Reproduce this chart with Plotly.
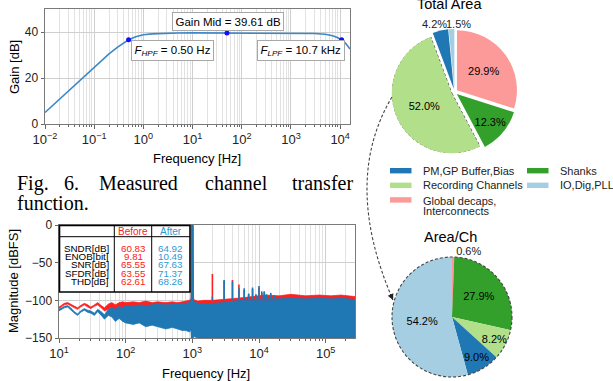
import numpy as np
import plotly.graph_objects as go

W, H = 613, 381
def px(x): return x / W
def py(y): return 1 - y / H

FONT = "Liberation Sans, Arial, sans-serif"
SERIF = "Liberation Serif, Times New Roman, serif"

# ---------------- top: channel transfer function ----------------
gain_freq = [0.01, 0.015, 0.02, 0.03, 0.05, 0.07, 0.1, 0.15, 0.2, 0.3, 0.4, 0.5, 0.7, 1, 1.5, 2, 3, 5,
             10, 20, 50, 100, 300, 1000, 2000, 3000, 5000, 7000, 9000, 10700, 12000, 13500, 15850]
gain_db = [5.0, 8.5, 11.0, 14.5, 18.9, 21.8, 24.8, 28.2, 30.5, 33.4, 35.2, 36.6, 37.9, 38.8, 39.2, 39.35,
           39.5, 39.57, 39.6, 39.61, 39.61, 39.61, 39.61, 39.6, 39.5, 39.35, 39.0, 38.4, 37.5, 36.6, 35.8,
           34.6, 32.6]
mark_freq = [0.5, 50, 10700]
mark_gain = [36.6, 39.61, 36.6]
top_exp = [-2, -1, 0, 1, 2, 3, 4]

# ---------------- bottom: output spectrum ----------------
env_freq = [10, 11, 12, 13.5, 15, 17, 19, 21, 24, 27,
            30, 34, 38, 43, 48, 55, 62, 70, 80, 90,
            100, 130, 160, 200, 250, 300, 400, 500, 600, 700,
            800, 900, 955, 975, 990, 1000, 1010, 1025, 1045, 1200,
            1500, 2000, 3000, 5000, 8000, 12000, 20000, 30000, 50000, 80000,
            120000, 170000, 275000]
red_hi = [-109, -106, -104, -103, -105, -108, -110, -107, -104, -106,
          -109, -106, -103, -107, -110, -105, -103, -106, -103, -102,
          -103, -102, -103, -101, -103, -102, -103, -102, -103, -102,
          -101, -100, -98, -50, -5, 0, -5, -50, -99, -101,
          -100, -100, -99, -97, -95, -93, -94, -92, -94, -93,
          -94, -93, -95]
red_lo = [-111, -108, -106, -105, -107, -110, -112, -109, -106, -109,
          -111, -108, -106, -110, -114, -112, -110, -116, -112, -118,
          -115, -114, -120, -116, -118, -116, -120, -118, -122, -120,
          -125, -130, -120, -130, -150, -150, -150, -130, -125, -140,
          -145, -148, -150, -150, -150, -150, -150, -150, -150, -150,
          -150, -150, -150]
blue_hi = [-112, -110, -108, -107, -110, -115, -118, -114, -111, -113,
           -114, -117, -112, -115, -119, -112, -110, -112, -108, -110,
           -107, -108, -106, -107, -106, -105, -106, -105, -105, -104,
           -104, -103, -100, -45, -3, 0, -3, -45, -101, -104,
           -105, -104, -103, -100, -99, -98, -98, -97, -98, -97,
           -98, -97, -99]
blue_lo = [-114, -112, -110, -109, -112, -117, -120, -116, -113, -116,
           -117, -120, -115, -120, -125, -120, -122, -128, -124, -128,
           -130, -132, -130, -135, -133, -135, -138, -136, -138, -140,
           -140, -142, -140, -150, -150, -150, -150, -150, -148, -150,
           -150, -150, -150, -150, -150, -150, -150, -150, -150, -150,
           -150, -150, -150]
fund_freq = [1000]
fund_level = [0]
harm_freq = [2000, 3000, 4000, 5000, 6000, 7000, 8000, 9000, 10000, 11000, 12000, 13000, 15000, 17000]
red_harm = [-65, -74, -73, -79, -86, -92, -85, -93, -83, -90, -89, -93, -92, -94]
blue_harm = [-95, -73, -75, -84, -84, -91, -83, -92, -81, -88, -88, -92, -90, -93]
spec_exp = [1, 2, 3, 4, 5]

metrics = ["SNDR[dB]", "ENOB[bit]", "SNR[dB]", "SFDR[dB]", "THD[dB]"]
before_vals = ["60.83", "9.81", "65.55", "63.55", "62.61"]
after_vals = ["64.92", "10.49", "67.63", "71.37", "68.26"]

# ---------------- pies ----------------
labels = ["PM,GP Buffer,Bias", "Recording Channels", "Global decaps,\nInterconnects", "Shanks", "IO,Dig,PLL"]
colors = ["#1f78b4", "#b2df8a", "#fb9a99", "#33a02c", "#a6cee3"]
total_area = [4.2, 52.0, 29.9, 12.3, 1.5]
area_per_ch = [9.0, 8.2, 0.6, 27.9, 54.2]
pie_order = [2, 3, 1, 0, 4]   # clockwise from 12 o'clock

RED = "#ff2020"
BLUE = "#1f77b4"
AFTER_C = "#2f9ad2"
GRID = "#cfcfcf"
MGRID = "#e2e2e2"

fig = go.Figure()

# top curve
fig.add_trace(go.Scatter(x=gain_freq, y=gain_db, mode="lines", line=dict(color="#3a88c8", width=1.6),
                         xaxis="x", yaxis="y", showlegend=False, hoverinfo="skip"))
fig.add_trace(go.Scatter(x=mark_freq, y=mark_gain, mode="markers", marker=dict(color="#1010ff", size=5),
                         xaxis="x", yaxis="y", showlegend=False, hoverinfo="skip"))

# spectrum bands
def band(hi, lo, col):
    return go.Scatter(x=env_freq + env_freq[::-1], y=hi + lo[::-1], mode="lines", fill="toself",
                      fillcolor=col, line=dict(color=col, width=0.7), xaxis="x2", yaxis="y2",
                      showlegend=False, hoverinfo="skip")

def spikes(freqs, vals, col, base=-100, width=1.6):
    xs, ys = [], []
    for f, v in zip(freqs, vals):
        xs += [f, f, None]
        ys += [base, v, None]
    return go.Scatter(x=xs, y=ys, mode="lines", line=dict(color=col, width=width), xaxis="x2", yaxis="y2",
                      showlegend=False, hoverinfo="skip")

fig.add_trace(band(red_hi, red_lo, RED))
fig.add_trace(band(blue_hi, blue_lo, BLUE))
fig.add_trace(spikes(harm_freq, red_harm, RED))
fig.add_trace(spikes(harm_freq, blue_harm, BLUE))
fig.add_trace(spikes(fund_freq, fund_level, BLUE, base=-150, width=3))

# pies
R1, PULL = 60, 0.05
C1 = (454.5, 92)
R2 = 60
C2 = (452, 317)
s1 = R1 * (1 + PULL)

def pie(vals, tpos, cx, cy, half, pull):
    return go.Pie(values=[vals[i] for i in pie_order], labels=[labels[i] for i in pie_order],
                  marker=dict(colors=[colors[i] for i in pie_order], line=dict(width=0)),
                  sort=False, direction="clockwise", rotation=0, pull=pull,
                  textposition=tpos, texttemplate="%{value:.1f}%",
                  textfont=dict(size=11, color="black", family=FONT),
                  insidetextfont=dict(size=11, color="black", family=FONT),
                  outsidetextfont=dict(size=11, color="#222", family=FONT),
                  insidetextorientation="horizontal", showlegend=False, hoverinfo="skip",
                  domain=dict(x=[px(cx - half), px(cx + half)], y=[py(cy + half), py(cy - half)]))

fig.add_trace(pie(total_area, ["inside", "inside", "inside", "none", "none"], C1[0], C1[1], s1, PULL))
fig.add_trace(pie(area_per_ch, ["outside", "inside", "inside", "inside", "inside"], C2[0], C2[1], R2, 0))

# dashed outline of the pulled "Recording Channels" wedge (polar overlay)
ordered = [total_area[i] for i in pie_order]
tot = sum(ordered)
a0 = 360 * sum(ordered[:2]) / tot
a1 = a0 + 360 * ordered[2] / tot
bis = np.radians((a0 + a1) / 2)
wx = C1[0] + PULL * R1 * np.sin(bis)
wy = C1[1] - PULL * R1 * np.cos(bis)
arc = list(np.linspace(a0, a1, 80))
fig.add_trace(go.Scatterpolar(theta=[a0] + arc + [a1], r=[0] + [1] * len(arc) + [0], mode="lines",
                              line=dict(color="#444", width=1.1, dash="3px,2px"), subplot="polar",
                              showlegend=False, hoverinfo="skip"))

axfont = dict(family=FONT, size=13, color="#222")
yfont = dict(family=FONT, size=12, color="#222")

def logax(domain, rng, exps):
    return dict(type="log", domain=domain, range=rng, tickvals=[10.0 ** e for e in exps],
                ticktext=["10<sup>" + str(e).replace("-", "\u2212") + "</sup>" for e in exps],
                tickfont=axfont, showgrid=True, gridcolor=GRID, gridwidth=1,
                minor=dict(dtick="D1", showgrid=True, gridcolor=MGRID, ticks="outside", ticklen=2,
                           tickcolor="#666"),
                ticks="outside", ticklen=3.5, tickcolor="#666", showline=True, linecolor="#7a7a7a",
                linewidth=1, mirror=True, zeroline=False, automargin=False)

def linax(domain, rng, dtick, anchor):
    return dict(domain=domain, range=rng, dtick=dtick, tickfont=yfont, showgrid=True, gridcolor=GRID,
                ticks="outside", ticklen=3.5, tickcolor="#666", showline=True, linecolor="#7a7a7a",
                linewidth=1, mirror=True, zeroline=False, automargin=False, anchor=anchor)

xa = logax([px(45), px(350)], [-2, 4.2], top_exp); xa["anchor"] = "y"
xb = logax([px(59), px(355)], [1, 5.44], spec_exp); xb["anchor"] = "y2"

annotations = []
def text(x, y, s, size=11, color="black", family=FONT, xanchor="center", **kw):
    annotations.append(dict(x=px(x), y=py(y), xref="paper", yref="paper", text=s, showarrow=False,
                            font=dict(size=size, color=color, family=family), xanchor=xanchor,
                            yanchor="middle", **kw))

# axis titles
text(14, 67, "Gain [dB]", size=13, textangle=-90)
text(197, 159, "Frequency [Hz]", size=13)
text(13, 281, "Magnitude [dBFS]", size=13, textangle=-90)
text(206, 373, "Frequency [Hz]", size=13)

# boxes on top chart
box = dict(bgcolor="white", bordercolor="#a8a8a8", borderwidth=1, borderpad=2.5)
text(228, 21, "Gain Mid = 39.61 dB", size=11.5, **box)
text(172.5, 50, "<i>F<sub>HPF</sub></i> = 0.50 Hz", size=11.5, **box)
text(300.5, 50, "<i>F<sub>LPF</sub></i> = 10.7 kHz", size=11.5, **box)

# caption (justified)
cap_words = [("Fig.", 15), ("6.", 62), ("Measured", 97), ("channel", 203), ("transfer", 290)]
for w, x in cap_words:
    text(x, 183, w, size=20, family=SERIF, xanchor="left")
text(15, 203, "function.", size=20, family=SERIF, xanchor="left")

# table
shapes = []
def rect(x0, y0, x1, y1, **kw):
    shapes.append(dict(type="rect", xref="paper", yref="paper", x0=px(x0), x1=px(x1), y0=py(y1), y1=py(y0), **kw))
def line(x0, y0, x1, y1, **kw):
    shapes.append(dict(type="line", xref="paper", yref="paper", x0=px(x0), x1=px(x1), y0=py(y0), y1=py(y1), **kw))

rect(59.5, 225.5, 190, 292, fillcolor="white", line=dict(color="black", width=1.6), layer="above")
line(114.3, 225.5, 114.3, 292, line=dict(color="black", width=1))
line(151.7, 225.5, 151.7, 292, line=dict(color="black", width=1))
line(59.5, 236.7, 190, 236.7, line=dict(color="black", width=1))
text(133, 231, "Before", size=10, color=RED)
text(170.5, 231, "After", size=10, color=AFTER_C)
for i, (m, b, a) in enumerate(zip(metrics, before_vals, after_vals)):
    y = 248.0 + i * 8.45
    text(110.5, y, m, size=9.8, xanchor="right")
    text(133, y, b, size=9.8, color=RED)
    text(170.5, y, a, size=9.8, color=AFTER_C)

# pie titles
text(449, 4.5, "Total Area", size=14.5)
text(450, 237, "Area/Ch", size=14.5)

# small-slice labels of the total-area pie, placed side by side above it
text(434, 24, f"{total_area[0]:.1f}%", size=11, color="#222")
text(458, 24, f"{total_area[4]:.1f}%", size=11, color="#222")

# legend (2 columns, column-major)
for i, (lab, col) in enumerate(zip(labels, colors)):
    c, r = divmod(i, 3)
    sx = 390 if c == 0 else 527
    yc = 170.7 + r * 14.6
    rect(sx, yc - 2.7, sx + 21.5, yc + 2.7, fillcolor=col, line=dict(width=0))
    for k, part in enumerate(lab.split("\n")):
        text(sx + 30.5, yc + 1 + k * 10 if "\n" in lab else yc, part, size=11, color="#222", xanchor="left")

# Area/Ch dashed outline
shapes.append(dict(type="circle", xref="paper", yref="paper", x0=px(C2[0] - R2), x1=px(C2[0] + R2),
                   y0=py(C2[1] + R2), y1=py(C2[1] - R2), line=dict(color="#444", width=1.1, dash="3px,2px"),
                   layer="above"))

# connector arrow
S, Cc, E = (392, 97), (341.5, 181.5), (393, 300)
shapes.append(dict(type="path", xref="paper", yref="paper",
                   path=f"M {px(S[0])},{py(S[1])} Q {px(Cc[0])},{py(Cc[1])} {px(E[0])},{py(E[1])}",
                   line=dict(color="#444", width=1.1, dash="3px,2px")))
tx, ty = E[0] - Cc[0], E[1] - Cc[1]
nrm = (tx ** 2 + ty ** 2) ** 0.5
annotations.append(dict(x=px(E[0]), y=py(E[1]), xref="paper", yref="paper", text="", showarrow=True,
                        ax=-8 * tx / nrm, ay=-8 * ty / nrm, arrowhead=2, arrowsize=1.1, arrowwidth=1.1,
                        arrowcolor="#222"))

fig.update_layout(
    width=W, height=H, margin=dict(l=0, r=0, t=0, b=0), paper_bgcolor="white", plot_bgcolor="white",
    font=dict(family=FONT, size=12, color="#222"),
    uniformtext=dict(minsize=11, mode="show"),
    xaxis=xa, yaxis=linax([py(124), py(9)], [0, 50], 20, "x"),
    xaxis2=xb, yaxis2=linax([py(338), py(225)], [-150, 0], 50, "x2"),
    polar=dict(domain=dict(x=[px(wx - R1), px(wx + R1)], y=[py(wy + R1), py(wy - R1)]),
               bgcolor="rgba(0,0,0,0)",
               radialaxis=dict(visible=False, range=[0, 1]),
               angularaxis=dict(visible=False, rotation=90, direction="clockwise")),
    annotations=annotations, shapes=shapes,
)

fig.write_html("out.html")
